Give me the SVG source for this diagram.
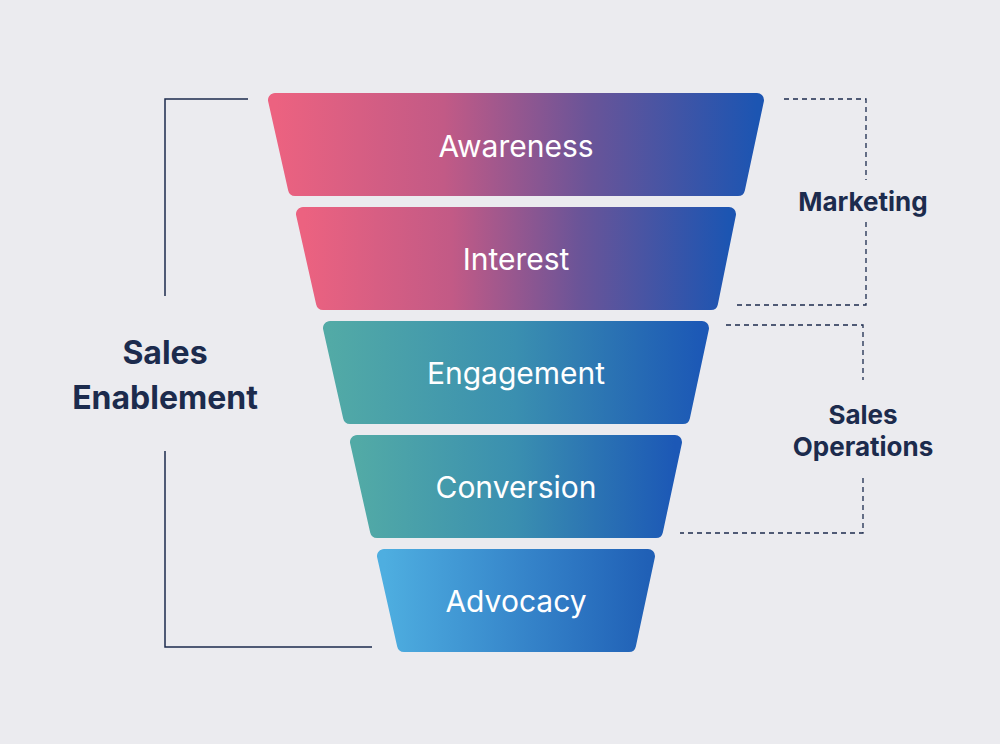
<svg xmlns="http://www.w3.org/2000/svg" width="1000" height="744" viewBox="0 0 1000 744">
<defs>
<linearGradient id="gPink" x1="0" y1="0" x2="1" y2="0">
<stop offset="0" stop-color="#ec6280"/><stop offset="0.35" stop-color="#c25a86"/><stop offset="0.65" stop-color="#6a5498"/><stop offset="1" stop-color="#1c55b2"/>
</linearGradient>
<linearGradient id="gTeal" x1="0" y1="0" x2="1" y2="0">
<stop offset="0" stop-color="#52aaa6"/><stop offset="0.5" stop-color="#3a8fb0"/><stop offset="1" stop-color="#1c58b6"/>
</linearGradient>
<linearGradient id="gBlue" x1="0" y1="0" x2="1" y2="0">
<stop offset="0" stop-color="#4eaee0"/><stop offset="1" stop-color="#2060b6"/>
</linearGradient>
</defs>
<style>
.lbl{font-family:Inter,"Liberation Sans",sans-serif;font-size:30px;fill:#fff;text-anchor:middle;}
.side{font-family:Inter,"Liberation Sans",sans-serif;font-weight:700;fill:#1c2b4d;text-anchor:middle;}
.solid{stroke:#1c2b4d;stroke-width:1.5;fill:none;}
.dash{stroke:#1c2b4d;stroke-width:1.3;fill:none;stroke-dasharray:5 4;}
.seg{stroke-linejoin:round;stroke-width:14;}
</style>
<rect width="1000" height="744" fill="#ebebef"/>
<g id="awareness">
<path class="seg" d="M275,100 L757,100 L738,189 L295,189 Z" fill="url(#gPink)" stroke="url(#gPink)"/>
<text class="lbl" x="516" y="157">Awareness</text>
</g>
<g id="interest">
<path class="seg" d="M303,214 L729,214 L711,303 L323,303 Z" fill="url(#gPink)" stroke="url(#gPink)"/>
<text class="lbl" x="516" y="270">Interest</text>
</g>
<g id="engagement">
<path class="seg" d="M330,328 L702,328 L683,417 L350,417 Z" fill="url(#gTeal)" stroke="url(#gTeal)"/>
<text class="lbl" x="516" y="384">Engagement</text>
</g>
<g id="conversion">
<path class="seg" d="M357,442 L675,442 L656,531 L377,531 Z" fill="url(#gTeal)" stroke="url(#gTeal)"/>
<text class="lbl" x="516" y="498">Conversion</text>
</g>
<g id="advocacy">
<path class="seg" d="M384,556 L648,556 L629,645 L404,645 Z" fill="url(#gBlue)" stroke="url(#gBlue)"/>
<text class="lbl" x="516" y="612">Advocacy</text>
</g>
<g id="connectors">
<path class="solid" d="M248,99 H165 V296 M165,451 V647 H372"/>
<path class="dash" d="M784,99 H866 V180 M866,222 V305 H733"/>
<path class="dash" d="M726,325 H863 V380 M863,478 V533 H680"/>
</g>
<g id="sales-enablement">
<text class="side" x="165" y="364" font-size="32">Sales</text>
<text class="side" x="165" y="409" font-size="32">Enablement</text>
</g>
<g id="marketing">
<text class="side" x="863" y="211" font-size="26">Marketing</text>
</g>
<g id="sales-operations">
<text class="side" x="863" y="424" font-size="26">Sales</text>
<text class="side" x="863" y="456" font-size="26">Operations</text>
</g>
</svg>
